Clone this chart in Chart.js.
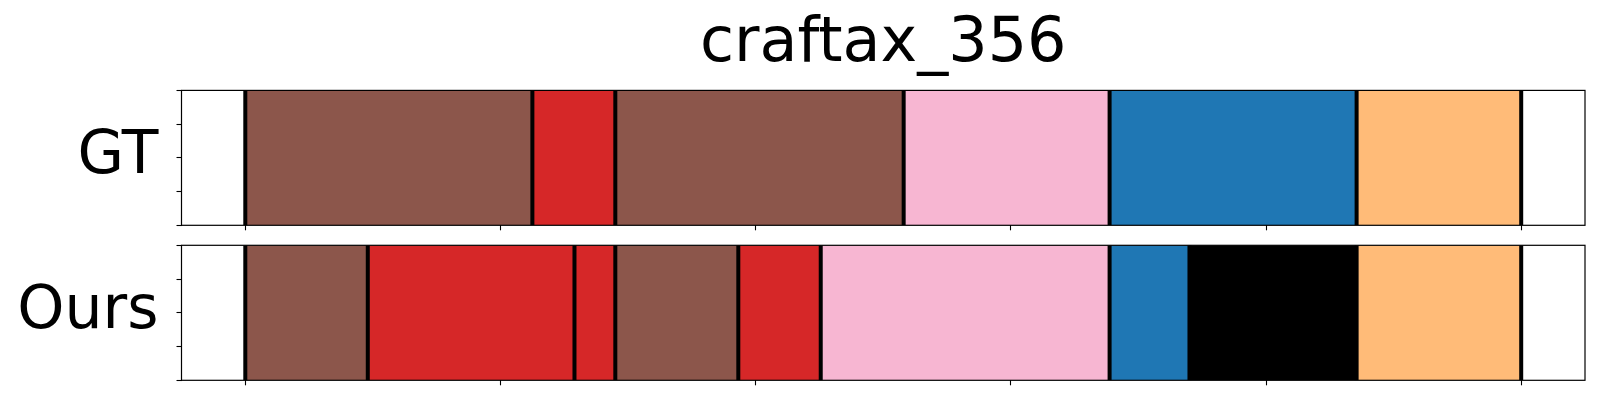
<!DOCTYPE html>
<html>
<head>
<meta charset="utf-8">
<script src="https://cdn.jsdelivr.net/npm/chart.js@4.4.1/dist/chart.umd.min.js"></script>
<style>
  html, body { margin: 0; padding: 0; background: #fff; }
  #wrap { position: relative; width: 1600px; height: 400px; }
  canvas { position: absolute; left: 0; }
  #top { top: 0; }
  #bottom { top: 235px; }
</style>
</head>
<body>
<div id="wrap">
  <canvas id="top" width="1600" height="235"></canvas>
  <canvas id="bottom" width="1600" height="165"></canvas>
</div>
<script>
// ── data (frames) ─────────────────────────────────────────────────────────
const TITLE = 'craftax_356';
const ROW_LABELS = ['GT', 'Ours'];
const X_MAX = 500;
const X_TICKS = [0, 100, 200, 300, 400, 500];
const Y_TICKS = [0, 0.25, 0.5, 0.75, 1];

// segment boundaries and the class id of each segment
const GT_BOUNDS = [0, 112.5, 145, 258, 338.7, 435.5, 500];
const GT_CLASSES = [5, 3, 5, 6, 0, 1];
const OURS_BOUNDS = [0, 48, 129, 145, 193.2, 225.5, 338.7, 370, 435.5, 500];
const OURS_CLASSES = [5, 3, 3, 5, 3, 6, 0, 10, 1];

// class id -> colour
const PALETTE = {
  0: '#1f77b4', 1: '#ffbb78', 3: '#d62728', 5: '#8c564b', 6: '#f7b6d2', 10: '#000000',
};

const FONT = "'DejaVu Sans', sans-serif";

// axes frame (matplotlib spines)
const framePlugin = {
  id: 'frame',
  afterDraw(chart) {
    const { ctx, chartArea: a } = chart;
    ctx.save();
    ctx.strokeStyle = '#000';
    ctx.lineWidth = 1.2;
    ctx.strokeRect(a.left, a.top, a.right - a.left, a.bottom - a.top);
    ctx.restore();
  },
};

const noPad = (s) => { s.paddingTop = 0; s.paddingBottom = 0; s.paddingLeft = 0; s.paddingRight = 0; };

function makeRow(canvasId, label, bounds, classes, opts) {
  const segments = {
    type: 'bar',
    order: 1,
    yAxisID: 'y',
    grouped: false,
    data: classes.map((c, i) => ({ x: [bounds[i], bounds[i + 1]], y: label })),
    backgroundColor: classes.map((c) => PALETTE[c]),
    borderWidth: 0,
    barPercentage: 1,
    categoryPercentage: 1,
    inflateAmount: 0,
  };
  // one vertical black line at each segment boundary
  const cuts = bounds.map((b) => ({
    type: 'line',
    order: 0,
    yAxisID: 'y2',
    data: [{ x: b, y: 0 }, { x: b, y: 1 }],
    borderColor: '#000',
    borderWidth: 4,
    pointRadius: 0,
    fill: false,
  }));

  return new Chart(document.getElementById(canvasId), {
    type: 'bar',
    data: { labels: [label], datasets: [segments, ...cuts] },
    options: {
      indexAxis: 'y',
      responsive: false,
      animation: false,
      devicePixelRatio: 1,
      layout: { padding: opts.padding },
      plugins: {
        legend: { display: false },
        tooltip: { enabled: false },
        title: opts.title ? {
          display: true,
          text: opts.title,
          fullSize: false,
          color: '#000',
          font: { family: FONT, size: 62, weight: 'normal' },
          padding: { top: 8, bottom: 8 },
        } : { display: false },
      },
      scales: {
        x: {
          type: 'linear',
          min: -X_MAX * 0.05,
          max: X_MAX * 1.05,
          afterBuildTicks: (s) => { s.ticks = X_TICKS.map((v) => ({ value: v })); },
          ticks: { display: false },
          grid: { display: true, drawOnChartArea: false, drawTicks: true, tickLength: 5, color: '#000', tickWidth: 1.1 },
          border: { display: false },
          afterFit: (s) => { s.height = 5; noPad(s); },
        },
        y: {
          type: 'category',
          position: 'left',
          weight: 1,
          min: 0,
          max: 0,
          offset: true,
          grid: { display: false, drawTicks: false },
          border: { display: false },
          ticks: { color: '#000', padding: 18, font: { family: FONT, size: 60 } },
          afterFit: (s) => { s.width = 176.5; noPad(s); },
        },
        y2: {
          type: 'linear',
          position: 'left',
          weight: 0,
          min: 0,
          max: 1,
          offset: false,
          afterBuildTicks: (s) => { s.ticks = Y_TICKS.map((v) => ({ value: v })); },
          ticks: { display: false },
          grid: { display: true, offset: false, drawOnChartArea: false, drawTicks: true, tickLength: 5, color: '#000', tickWidth: 1.1 },
          border: { display: false },
          afterFit: (s) => { s.width = 5; noPad(s); },
        },
      },
    },
    plugins: [framePlugin],
  });
}

makeRow('top', ROW_LABELS[0], GT_BOUNDS, GT_CLASSES, {
  title: TITLE,
  padding: { left: 0, right: 15, top: 0, bottom: 4.7 },
});
makeRow('bottom', ROW_LABELS[1], OURS_BOUNDS, OURS_CLASSES, {
  padding: { left: 0, right: 15, top: 10.3, bottom: 14.7 },
});
</script>
</body>
</html>
